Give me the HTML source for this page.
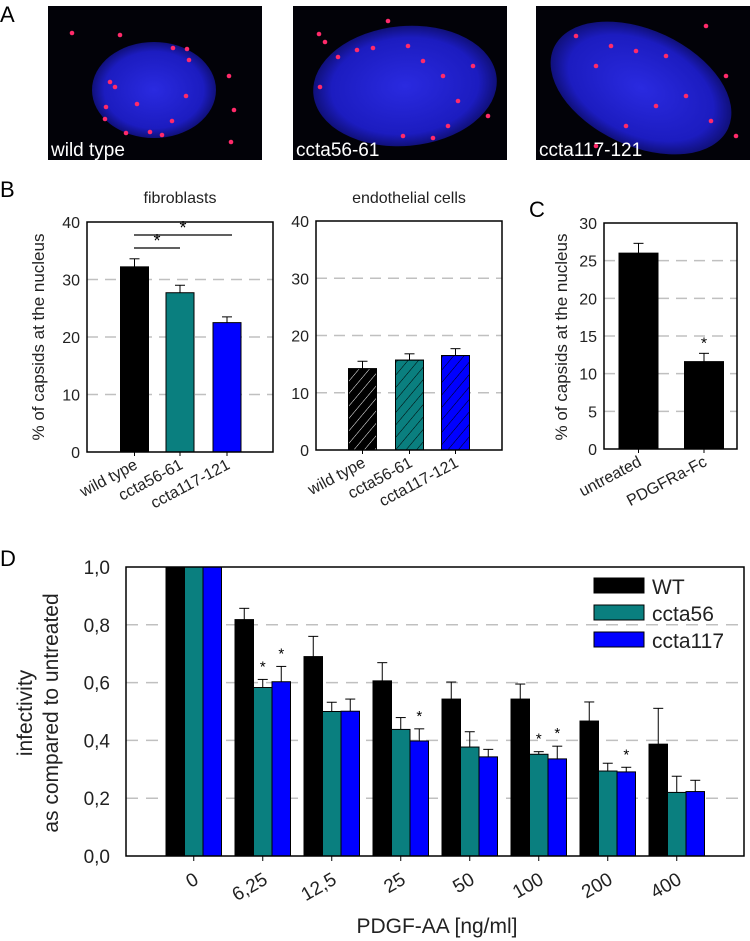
<!DOCTYPE html>
<html><head><meta charset="utf-8"><style>
html,body{margin:0;padding:0;background:#fff;}
svg{display:block;font-family:"Liberation Sans",Arial,sans-serif;}
</style></head><body>
<svg id="fig" width="750" height="941" viewBox="0 0 750 941">
<defs>
<pattern id="hatchW" patternUnits="userSpaceOnUse" width="8" height="8" patternTransform="rotate(40)"><line x1="0" y1="0" x2="0" y2="8" stroke="#fff" stroke-width="1"/></pattern>
<pattern id="hatchK" patternUnits="userSpaceOnUse" width="8" height="8" patternTransform="rotate(40)"><line x1="0" y1="0" x2="0" y2="8" stroke="#000" stroke-width="1"/></pattern>
<radialGradient id="nuc" cx="50%" cy="50%" r="50%"><stop offset="0%" stop-color="#2a2ae0"/><stop offset="80%" stop-color="#1c1cc0"/><stop offset="100%" stop-color="#10107a"/></radialGradient>
</defs>
<g id="panelA">
<text x="0" y="22" font-size="22">A</text>
</g>
<g id="panelB">
<text x="0" y="197" font-size="22">B</text>
</g>
<g id="panelC">
<text x="529" y="217" font-size="22">C</text>
</g>
<g id="panelD">
<text x="0" y="566" font-size="22">D</text>
</g>
</svg>
<script>
const NS="http://www.w3.org/2000/svg";
// ---- data ----
const microLabels=["wild type","ccta56-61","ccta117-121"];
const bCategories=["wild type","ccta56-61","ccta117-121"];
const fibroValues=[32.2,27.7,22.5];
const fibroErrors=[1.4,1.3,1.0];
const endoValues=[14.2,15.7,16.5];
const endoErrors=[1.3,1.1,1.2];
const bTicks=[0,10,20,30,40];
const cCategories=["untreated","PDGFRa-Fc"];
const cValues=[26.0,11.6];
const cErrors=[1.3,1.1];
const cTicks=[0,5,10,15,20,25,30];
const dCategories=["0","6,25","12,5","25","50","100","200","400"];
const dSeries=["WT","ccta56","ccta117"];
const wtValues=[1.0,0.818,0.69,0.606,0.543,0.543,0.467,0.387];
const wtErrors=[0,0.039,0.07,0.063,0.059,0.052,0.066,0.124];
const c56Values=[1.0,0.583,0.5,0.438,0.377,0.352,0.294,0.22];
const c56Errors=[0,0.028,0.032,0.041,0.053,0.009,0.027,0.056];
const c117Values=[1.0,0.603,0.501,0.398,0.343,0.336,0.291,0.223];
const c117Errors=[0,0.053,0.042,0.042,0.026,0.044,0.016,0.039];
const dStars=[[1,1],[1,2],[3,2],[5,1],[5,2],[6,2]];
const dTicks=[0,0.2,0.4,0.6,0.8,1.0];
const dTickLabels=["0,0","0,2","0,4","0,6","0,8","1,0"];
const colors=["#000000","#0a7f7f","#0000ff"];

function el(tag,attrs,parent,txt){const e=document.createElementNS(NS,tag);for(const k in attrs)e.setAttribute(k,attrs[k]);if(txt!==undefined)e.textContent=txt;parent.appendChild(e);return e;}

// ---- panel A images ----
const A=document.getElementById('panelA');
const imgX=[48,293,536];
const spots=[[[24,27],[72,29],[125,42],[139,43],[141,54],[62,76],[67,81],[89,98],[58,101],[57,113],[138,90],[124,115],[78,127],[102,126],[114,129],[181,70],[186,104],[183,136]],[[26,28],[32,36],[64,44],[45,51],[80,42],[95,15],[115,40],[130,55],[150,70],[165,95],[155,120],[140,132],[110,130],[180,60],[195,110],[27,81]],[[40,30],[60,60],[75,40],[100,45],[130,50],[150,90],[120,100],[90,120],[170,20],[190,70],[200,130],[175,115],[60,140]]];
const nuclei=[[106,84,62,48,0],[112,80,92,60,-5],[105,82,96,58,25]];
for(let i=0;i<3;i++){
  const g=el('g',{transform:`translate(${imgX[i]},6)`},A);
  
  
  el('rect',{x:0,y:0,width:214,height:154,fill:'#020208'},g);
  const n=nuclei[i];
  el('ellipse',{cx:n[0],cy:n[1],rx:n[2],ry:n[3],fill:'url(#nuc)',transform:`rotate(${n[4]} ${n[0]} ${n[1]})`},g);
  spots[i].forEach(s=>el('circle',{cx:s[0],cy:s[1],r:2.3,fill:'#ff2a6a'},g));
  const t=el('text',{x:3,y:150,'font-size':19,fill:'#fff'},g,microLabels[i]);
  
  
}

// ---- generic small bar chart ----
function smallChart(parent,cfg){
  const {x0,x1,y0,y1,max,ticks,cats,vals,errs,centers,bw,fills,title,name}=cfg;
  const g=el('g',{},parent);
  
  
  const ys=v=>y0-(v/max)*(y0-y1);
  ticks.forEach(t=>{
    if(t>0&&t<max){const l=el('line',{x1:x0,x2:x1,y1:ys(t),y2:ys(t),stroke:'#c0c0c0','stroke-width':1.5,'stroke-dasharray':'11,7'},g);
      }
    const tl=el('text',{x:x0-7,y:ys(t)+6,'font-size':16,'text-anchor':'end',fill:'#222'},g,String(t));
    
  });
  vals.forEach((v,i)=>{
    const cx=centers[i];
    const e=el('line',{x1:cx,x2:cx,y1:ys(v),y2:ys(v+errs[i]),stroke:'#000','stroke-width':1},g);
    
    el('line',{x1:cx-5,x2:cx+5,y1:ys(v+errs[i]),y2:ys(v+errs[i]),stroke:'#000','stroke-width':1},g);
    const b=el('rect',{x:cx-bw/2,y:ys(v),width:bw,height:y0-ys(v),fill:fills[i][0],stroke:'#000','stroke-width':1},g);
    
    
    if(fills[i][1]){const h=el('rect',{x:cx-bw/2,y:ys(v),width:bw,height:y0-ys(v),fill:fills[i][1],stroke:'#000','stroke-width':1},g);
      }
    el('line',{x1:cx,x2:cx,y1:y0,y2:y0+4,stroke:'#000'},g);
    const xl=el('text',{x:cx+4,y:y0+16,'font-size':16,'text-anchor':'end',fill:'#222',transform:`rotate(-28 ${cx+4} ${y0+16})`},g,cats[i]);
    
  });
  const ax=el('rect',{x:x0,y:y1,width:x1-x0,height:y0-y1,fill:'none',stroke:'#000','stroke-width':1.5},g);
  
  if(title){const tt=el('text',{x:(x0+x1)/2,y:203,'font-size':16,'text-anchor':'middle',fill:'#222'},g,title);
    }
  return ys;
}
const B=document.getElementById('panelB');
const yl=el('text',{x:0,y:0,'font-size':17,'text-anchor':'middle',fill:'#222',transform:'translate(44,337) rotate(-90)'},B,'% of capsids at the nucleus');

const fys=smallChart(B,{x0:87,x1:273,y0:452,y1:222,max:40,ticks:bTicks,cats:bCategories,vals:fibroValues,errs:fibroErrors,centers:[134.5,180,227],bw:28,fills:[[colors[0]],[colors[1]],[colors[2]]],title:'fibroblasts',name:'fibroblasts-chart'});
[[134,180,248],[134,232,235]].forEach(s=>{
  const l=el('line',{x1:s[0],x2:s[1],y1:s[2],y2:s[2],stroke:'#000','stroke-width':1.2},B);
  
  el('text',{x:(s[0]+s[1])/2,y:s[2]-1,'font-size':18,'text-anchor':'middle'},B,'*');
});
smallChart(B,{x0:316,x1:502,y0:450,y1:221,max:40,ticks:bTicks,cats:bCategories,vals:endoValues,errs:endoErrors,centers:[362.5,409.5,455.5],bw:28,fills:[[colors[0],'url(#hatchW)'],[colors[1],'url(#hatchK)'],[colors[2],'url(#hatchK)']],title:'endothelial cells',name:'endothelial-chart'});

const C=document.getElementById('panelC');
const yc=el('text',{x:0,y:0,'font-size':17,'text-anchor':'middle',fill:'#222',transform:'translate(567,337) rotate(-90)'},C,'% of capsids at the nucleus');

const cys=smallChart(C,{x0:604,x1:737,y0:449,y1:223,max:30,ticks:cTicks,cats:cCategories,vals:cValues,errs:cErrors,centers:[638.5,704],bw:39,fills:[[colors[0]],[colors[0]]],title:null,name:'pdgfr-chart'});
el('text',{x:704,y:cys(cValues[1]+cErrors[1])-5,'font-size':16,'text-anchor':'middle'},C,'*');

// ---- panel D ----
const D=document.getElementById('panelD');
const dx0=126,dx1=744,dy0=856,dy1=567;
const dys=v=>dy0-v*(dy0-dy1)/1.0;
const groupStart=i=>166+i*69;
const bwD=18.5;
dTicks.forEach((t,i)=>{
  if(t>0&&t<1){const l=el('line',{x1:dx0,x2:dx1,y1:dys(t),y2:dys(t),stroke:'#c0c0c0','stroke-width':1.5,'stroke-dasharray':'12,8'},D);
    }
  const tl=el('text',{x:dx0-16,y:dys(t)+7,'font-size':19,'text-anchor':'end',fill:'#222'},D,dTickLabels[i]);
  
});
const allVals=[wtValues,c56Values,c117Values],allErrs=[wtErrors,c56Errors,c117Errors];
dCategories.forEach((c,i)=>{
  for(let s=0;s<3;s++){
    const x=groupStart(i)+s*bwD, v=allVals[s][i], e=allErrs[s][i];
    if(e>0){const eb=el('line',{x1:x+bwD/2,x2:x+bwD/2,y1:dys(v),y2:dys(v+e),stroke:'#000'},D);
      
      el('line',{x1:x+bwD/2-5,x2:x+bwD/2+5,y1:dys(v+e),y2:dys(v+e),stroke:'#000'},D);}
    const b=el('rect',{x:x,y:dys(v),width:bwD,height:dy0-dys(v),fill:colors[s],stroke:'#000','stroke-width':1},D);
    
    
  }
  const cx=groupStart(i)+bwD*1.5;
  el('line',{x1:cx,x2:cx,y1:dy0,y2:dy0+5,stroke:'#000'},D);
  const xl=el('text',{x:cx+6,y:dy0+27,'font-size':19,'text-anchor':'end',fill:'#222',transform:`rotate(-30 ${cx+6} ${dy0+27})`},D,c);
  
});
dStars.forEach(st=>{
  const [i,s]=st;const x=groupStart(i)+s*bwD+bwD/2;
  const v=allVals[s][i]+allErrs[s][i];
  const t=el('text',{x:x,y:dys(v)-8,'font-size':15,'text-anchor':'middle'},D,'*');
  
});
const dax=el('path',{d:`M${dx0},${dy0} L${dx0},${dy1} L${dx1},${dy1} L${dx1},${dy0} Z`,fill:'none',stroke:'#000','stroke-width':1.5},D);

const lg=el('g',{},D);


dSeries.forEach((s,i)=>{
  const y=578+i*27;
  const r=el('rect',{x:594,y:y,width:50,height:15,fill:colors[i],stroke:'#000'},lg);
  
  const t=el('text',{x:652,y:y+16,'font-size':21,fill:'#222'},lg,s);
  
});
const dy1t=el('text',{x:0,y:0,'font-size':21,'text-anchor':'middle',fill:'#222',transform:'translate(32,713) rotate(-90)'},D,'infectivity');

const dy2t=el('text',{x:0,y:0,'font-size':21,'text-anchor':'middle',fill:'#222',transform:'translate(58,713) rotate(-90)'},D,'as compared to untreated');

const xt=el('text',{x:437,y:933,'font-size':21,'text-anchor':'middle',fill:'#222'},D,'PDGF-AA [ng/ml]');

</script>
</body></html>
